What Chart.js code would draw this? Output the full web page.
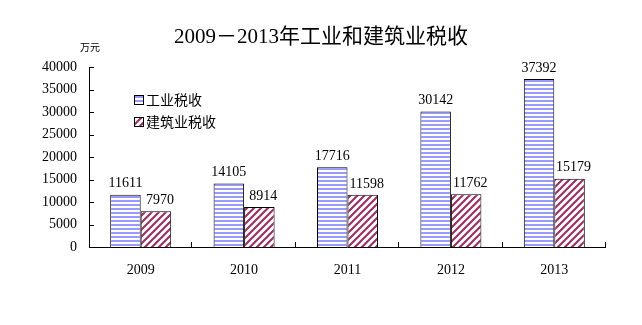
<!DOCTYPE html>
<html lang="zh-CN">
<head>
    <meta charset="UTF-8">
    <title>2009－2013年工业和建筑业税收</title>
    <script src="https://cdn.jsdelivr.net/npm/chart.js@4"></script>
    <style>
        body { margin: 0; background: #fff; }
        #wrap { width: 642px; height: 325px; }
    </style>
</head>
<body>
    <div id="wrap"><canvas id="taxChart" width="642" height="325"></canvas></div>
    <script>
        const years = ['2009', '2010', '2011', '2012', '2013'];
        const industryTax = [11611, 14105, 17716, 30142, 37392];
        const constructionTax = [7970, 8914, 11598, 11762, 15179];
        const yTicks = [0, 5000, 10000, 15000, 20000, 25000, 30000, 35000, 40000];

        const serif = '"Liberation Serif", "DejaVu Serif", serif';
        const cjk = '"Noto Sans CJK SC", sans-serif';

        // striped fills like the original spreadsheet chart
        function stripePattern() {
            const c = document.createElement('canvas');
            c.width = 4; c.height = 4;
            const g = c.getContext('2d');
            g.fillStyle = '#ffffff';
            g.fillRect(0, 0, 4, 4);
            g.fillStyle = '#9999ff';
            g.fillRect(0, 0, 4, 2);
            return g.createPattern(c, 'repeat');
        }
        function hatchPattern() {
            const s = 7;
            const c = document.createElement('canvas');
            c.width = s; c.height = s;
            const g = c.getContext('2d');
            g.fillStyle = '#ffffff';
            g.fillRect(0, 0, s, s);
            g.strokeStyle = '#993366';
            g.lineWidth = 2.2;
            g.beginPath();
            g.moveTo(-1, s + 1); g.lineTo(s + 1, -1);
            g.moveTo(-1, 1); g.lineTo(1, -1);
            g.moveTo(s - 1, s + 1); g.lineTo(s + 1, s - 1);
            g.stroke();
            return g.createPattern(c, 'repeat');
        }
        const blueFill = stripePattern();
        const redFill = hatchPattern();

        // axis ticks, value labels, unit and the legend inside the plot
        const extras = {
            id: 'extras',
            afterDatasetsDraw(chart) {
                const ctx = chart.ctx;
                const area = chart.chartArea;
                const ys = chart.scales.y;
                ctx.save();
                ctx.strokeStyle = '#000';
                ctx.lineWidth = 1;
                ctx.beginPath();
                ctx.moveTo(area.left + 0.5, area.top);
                ctx.lineTo(area.left + 0.5, area.bottom);
                ctx.moveTo(area.left, area.bottom + 0.5);
                ctx.lineTo(area.right, area.bottom + 0.5);
                yTicks.forEach(v => {
                    const py = Math.round(ys.getPixelForValue(v)) + 0.5;
                    ctx.moveTo(area.left, py);
                    ctx.lineTo(area.left + 5, py);
                });
                const step = (area.right - area.left) / years.length;
                for (let i = 1; i <= years.length; i++) {
                    const px = Math.round(area.left + step * i) - 0.5;
                    ctx.moveTo(px, area.bottom);
                    ctx.lineTo(px, area.bottom - 5);
                }
                ctx.stroke();

                ctx.fillStyle = '#000';
                ctx.font = '14px ' + serif;
                ctx.textAlign = 'center';
                ctx.textBaseline = 'bottom';
                chart.data.datasets.forEach((ds, di) => {
                    chart.getDatasetMeta(di).data.forEach((bar, i) => {
                        const shift = di === 1 ? 4 : 0;
                        ctx.fillText(String(ds.data[i]), bar.x + shift, bar.y - 4);
                    });
                });

                ctx.font = '10px ' + cjk;
                ctx.textAlign = 'left';
                ctx.textBaseline = 'middle';
                ctx.fillText('万元', 80, 47);

                // legend
                ctx.font = '14px ' + cjk;
                chart.data.datasets.forEach((ds, di) => {
                    const ly = 100 + di * 22;
                    ctx.fillStyle = ds.backgroundColor;
                    ctx.fillRect(134, ly - 5, 10, 10);
                    ctx.strokeStyle = '#000';
                    ctx.strokeRect(134.5, ly - 4.5, 9, 9);
                    ctx.fillStyle = '#000';
                    ctx.fillText(ds.label, 146, ly);
                });
                ctx.restore();
            }
        };

        const ctx = document.getElementById('taxChart').getContext('2d');
        new Chart(ctx, {
            type: 'bar',
            data: {
                labels: years,
                datasets: [{
                    label: '工业税收',
                    data: industryTax,
                    backgroundColor: blueFill,
                    borderColor: '#000',
                    borderWidth: 1
                }, {
                    label: '建筑业税收',
                    data: constructionTax,
                    backgroundColor: redFill,
                    borderColor: '#000',
                    borderWidth: 1
                }]
            },
            options: {
                responsive: false,
                animation: false,
                layout: { padding: 0 },
                datasets: { bar: { categoryPercentage: 0.59, barPercentage: 1.0 } },
                plugins: {
                    legend: { display: false },
                    tooltip: { enabled: false },
                    title: {
                        display: true,
                        text: '2009－2013年工业和建筑业税收',
                        color: '#000',
                        font: { family: '"Liberation Serif", "Noto Sans CJK SC", serif', size: 21, weight: 'normal', lineHeight: 1.2 },
                        padding: { top: 25, bottom: 17 }
                    }
                },
                scales: {
                    x: {
                        grid: { display: false, drawTicks: false },
                        border: { display: false },
                        ticks: { color: '#000', font: { family: serif, size: 14 }, padding: 15 },
                        afterFit(scale) { scale.height = 78; }
                    },
                    y: {
                        min: 0,
                        max: 40000,
                        grid: { display: false, drawTicks: false },
                        border: { display: false },
                        afterBuildTicks(scale) { scale.ticks = yTicks.map(v => ({ value: v })); },
                        ticks: {
                            color: '#000',
                            font: { family: serif, size: 14 },
                            padding: 12,
                            callback: v => String(v)
                        },
                        afterFit(scale) { scale.width = 89; }
                    },
                    // empty right-hand margin, keeps the title centred on the page
                    spacer: {
                        position: 'right',
                        grid: { display: false, drawTicks: false },
                        border: { display: false },
                        ticks: { display: false },
                        afterFit(scale) { scale.width = 36; }
                    }
                }
            },
            plugins: [extras]
        });
    </script>
</body>
</html>
